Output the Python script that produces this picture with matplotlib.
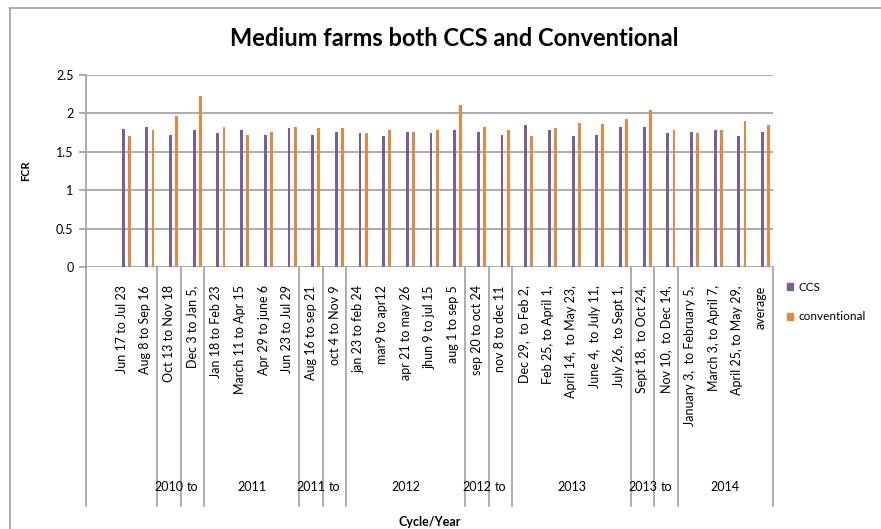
import matplotlib
matplotlib.use('Agg')
import matplotlib.pyplot as plt
import matplotlib.transforms as mtransforms
from matplotlib.patches import Patch
from matplotlib.lines import Line2D
import numpy as np

plt.rcParams['font.family'] = ['Lato', 'DejaVu Sans']

# first category is an empty row in the source sheet
cycles = ['', 'Jun 17 to Jul 23', 'Aug 8 to Sep 16', 'Oct 13 to Nov 18', 'Dec 3 to Jan 5,',
          'Jan 18 to Feb 23', 'March 11 to Apr 15', 'Apr 29 to june 6', 'Jun 23 to Jul 29',
          'Aug 16 to sep 21', 'oct 4 to Nov 9',
          'jan 23 to feb 24', 'mar9 to apr12', 'apr 21 to may 26', 'jhun 9 to jul 15', 'aug 1 to sep 5',
          'sep 20 to oct 24', 'nov 8 to dec 11',
          'Dec 29,  to Feb 2,', 'Feb 25, to April 1,', 'April 14,  to May 23,', 'June 4,  to July 11,',
          'July 26,  to Sept 1,', 'Sept 18,  to Oct 24,', 'Nov 10,  to Dec 14,',
          'January 3,  to February 5,', 'March 3, to April 7,', 'April 25, to May 29,', 'average']

ccs = [np.nan, 1.80, 1.83, 1.72, 1.78, 1.74, 1.78, 1.72, 1.81, 1.72, 1.76,
       1.74, 1.71, 1.76, 1.74, 1.79, 1.76, 1.72, 1.85, 1.78,
       1.71, 1.72, 1.83, 1.83, 1.74, 1.76, 1.78, 1.71, 1.76]
conventional = [np.nan, 1.71, 1.79, 1.97, 2.23, 1.83, 1.72, 1.76, 1.83, 1.81, 1.81,
                1.74, 1.79, 1.76, 1.78, 2.11, 1.83, 1.78, 1.71, 1.81,
                1.88, 1.86, 1.93, 2.04, 1.78, 1.74, 1.78, 1.90, 1.85]

# year groups: (label, first category, last category)
year_groups = [('', 0, 2), ('2010', 3, 3), ('to', 4, 4), ('2011', 5, 8), ('2011', 9, 9), ('to', 10, 10),
               ('2012', 11, 15), ('2012', 16, 16), ('to', 17, 17), ('2013', 18, 22), ('2013', 23, 23),
               ('to', 24, 24), ('2014', 25, 28)]

purple = '#7A5E9C'
orange = '#E3893F'
grid_c = '#A6A6A6'

W, H = 881, 529
fig = plt.figure(figsize=(W / 100, H / 100), dpi=100)
ax = fig.add_axes([86 / W, 1 - 267.3 / H, (772.7 - 86) / W, (267.3 - 75) / H])

x = np.arange(len(cycles))
bw = 0.12
ax.bar(x + 0.07, ccs, width=bw, color=purple)
ax.bar(x + 0.33, conventional, width=bw, color=orange)

ax.set_xlim(-0.5, len(cycles) - 0.5)
ax.set_ylim(0, 2.5)
ax.set_yticks([0, 0.5, 1, 1.5, 2, 2.5])
ax.set_yticklabels(['0', '0.5', '1', '1.5', '2', '2.5'], fontsize=9)
ax.yaxis.grid(True, color=grid_c, linewidth=1.3)
ax.set_axisbelow(True)
for s in ['top', 'right', 'bottom']:
    ax.spines[s].set_visible(False)
ax.spines['left'].set_color(grid_c)
ax.spines['left'].set_linewidth(1.3)
ax.tick_params(axis='y', length=5, color=grid_c, width=1.3, pad=4)

ax.set_xticks(x)
ax.set_xticklabels(cycles, rotation=90, fontsize=9, va='top', ha='center')
ax.tick_params(axis='x', length=0, pad=13)

# second level of the category axis
trans = mtransforms.blended_transform_factory(ax.transData, ax.transAxes)
y_low = -(505.7 - 267.3) / (267.3 - 75)
y_txt = -(486.7 - 267.3) / (267.3 - 75)
bounds = sorted({g[1] - 0.5 for g in year_groups} | {g[2] + 0.5 for g in year_groups})
for b in bounds:
    ax.add_line(Line2D([b, b], [0, y_low], transform=trans, color=grid_c, linewidth=1.3, clip_on=False))
for label, a, b in year_groups:
    ax.text((a + b) / 2, y_txt, label, transform=trans, ha='center', va='center', fontsize=9)

ax.set_ylabel('FCR', fontsize=8, fontweight='bold', labelpad=18)
ax.set_xlabel('Cycle/Year', fontsize=9, fontweight='bold')
ax.xaxis.set_label_coords(0.5, -(516 - 267.3) / (267.3 - 75))

fig.text(454 / W, 1 - 38 / H, 'Medium farms both CCS and Conventional',
         ha='center', va='center', fontsize=17, fontweight='bold')

handles = [Patch(color=purple), Patch(color=orange)]
fig.legend(handles, ['CCS', 'conventional'], loc='center left',
           bbox_to_anchor=(787 / W, 1 - 302 / H), frameon=False, fontsize=8.5,
           handlelength=0.55, handleheight=0.55, handletextpad=0.45, labelspacing=1.6,
           borderaxespad=0, borderpad=0)

# chart area border (only left and top visible in the crop)
fig.add_artist(Line2D([10 / W, 10 / W], [0, 1 - 8 / H], transform=fig.transFigure, color=grid_c, linewidth=1.3))
fig.add_artist(Line2D([10 / W, 1], [1 - 8 / H, 1 - 8 / H], transform=fig.transFigure, color=grid_c, linewidth=1.3))

fig.savefig('out.png', dpi=100)
